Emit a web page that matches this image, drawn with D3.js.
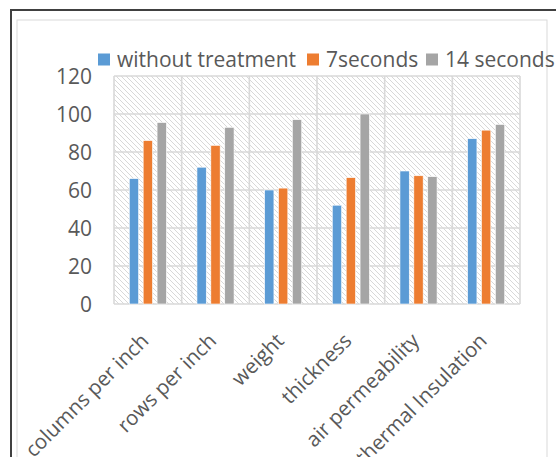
<!DOCTYPE html>
<html>
<head>
<meta charset="utf-8">
<script src="https://cdn.jsdelivr.net/npm/d3@7"></script>
<style>
  html, body { margin: 0; padding: 0; background: #fff; }
  svg { display: block; }
</style>
</head>
<body>
<svg id="chart" width="556" height="457"></svg>
<script>
// Fabric property measurements by treatment time
const categories = ["columns per inch", "rows per inch", "weight", "thickness", "air permeability", "thermal Insulation"];
const seriesNames = ["without treatment", "7seconds", "14 seconds"];
const withoutTreatment = [66, 72, 60, 52, 70, 87];
const sevenSeconds = [86, 83.5, 61, 66.5, 67.5, 91.5];
const fourteenSeconds = [95.5, 93, 97, 100, 67, 94.5];
const yTicks = [0, 20, 40, 60, 80, 100, 120];
const colors = ["#5b9bd5", "#ed7d31", "#a5a5a5"];

const series = [withoutTreatment, sevenSeconds, fourteenSeconds];
const svg = d3.select("#chart");
const W = 556, H = 457;
const plot = { left: 114, right: 520, top: 76, bottom: 304 };
const font = "'Open Sans', 'Noto Sans', sans-serif";
const textColor = "#595959";

// Frame
svg.append("rect").attr("x", 11).attr("y", 10).attr("width", W + 20).attr("height", H + 20)
  .attr("fill", "none").attr("stroke", "#404040").attr("stroke-width", 2);
svg.append("rect").attr("x", 17).attr("y", 20).attr("width", 530).attr("height", H + 20)
  .attr("fill", "none").attr("stroke", "#d9d9d9").attr("stroke-width", 1);

// Diagonal hatch for the plot background
const defs = svg.append("defs");
const pat = defs.append("pattern").attr("id", "hatch").attr("patternUnits", "userSpaceOnUse")
  .attr("width", 5).attr("height", 5);
pat.append("rect").attr("width", 5).attr("height", 5).attr("fill", "#fff");
pat.append("path").attr("d", "M-1,-1 L6,6 M-1,4 L1,6 M4,-1 L6,1")
  .attr("stroke", "#d4d4d4").attr("stroke-width", 0.9);

const x = d3.scaleBand().domain(categories).range([plot.left, plot.right]);
const xInner = d3.scaleBand().domain(seriesNames).range([0, x.bandwidth()]).paddingInner(0.33).paddingOuter(1.1);
const y = d3.scaleLinear().domain([0, 120]).range([plot.bottom, plot.top]);

svg.append("rect").attr("x", plot.left).attr("y", plot.top)
  .attr("width", plot.right - plot.left).attr("height", plot.bottom - plot.top)
  .attr("fill", "url(#hatch)");

// Gridlines
const grid = svg.append("g").attr("stroke", "#d9d9d9").attr("stroke-width", 1.6);
grid.selectAll("line.h").data(yTicks).join("line").attr("class", "h")
  .attr("x1", plot.left).attr("x2", plot.right)
  .attr("y1", d => y(d)).attr("y2", d => y(d));
const vEdges = categories.map(c => x(c)).concat([plot.right]);
grid.selectAll("line.v").data(vEdges).join("line").attr("class", "v")
  .attr("x1", d => d).attr("x2", d => d)
  .attr("y1", plot.top).attr("y2", plot.bottom);

// Bars
const groups = svg.append("g").selectAll("g").data(categories).join("g")
  .attr("transform", c => `translate(${x(c)},0)`);
groups.selectAll("rect").data((c, i) => seriesNames.map((s, k) => ({ s, k, v: series[k][i] })))
  .join("rect")
  .attr("x", d => xInner(d.s))
  .attr("width", xInner.bandwidth())
  .attr("y", d => y(d.v))
  .attr("height", d => y(0) - y(d.v))
  .attr("fill", d => colors[d.k])
  .attr("stroke", "#ffffff").attr("stroke-width", 0.6);

// Y axis labels
const yAxis = d3.axisLeft(y).tickValues(yTicks).tickSize(0).tickPadding(0);
const ya = svg.append("g").attr("transform", `translate(${plot.left - 22},0)`).call(yAxis);
ya.select(".domain").remove();
ya.selectAll("text").attr("font-family", font).attr("font-size", 21).attr("fill", textColor).attr("dy", "0.35em");

// X axis labels, rotated (long ones run off the bottom edge)
const xAxis = d3.axisBottom(x).tickSize(0).tickPadding(0);
const xa = svg.append("g").attr("transform", `translate(0,${plot.bottom})`).call(xAxis);
xa.select(".domain").remove();
xa.selectAll("text")
  .attr("font-family", font).attr("font-size", 20.5).attr("fill", textColor)
  .attr("text-anchor", "end").attr("dy", "0.35em")
  .attr("transform", "translate(-3,33) rotate(-45)");

// Legend
const legendX = [98, 307, 426];
const lg = svg.append("g").selectAll("g").data(seriesNames).join("g")
  .attr("transform", (d, i) => `translate(${legendX[i]},59.5)`);
lg.append("rect").attr("x", 0).attr("y", -6).attr("width", 12).attr("height", 12)
  .attr("fill", (d, i) => colors[i]);
lg.append("text").attr("x", 19).attr("y", 0).attr("dy", "0.35em")
  .attr("font-family", font).attr("font-size", 21).attr("fill", textColor)
  .text(d => d);
</script>
</body>
</html>
